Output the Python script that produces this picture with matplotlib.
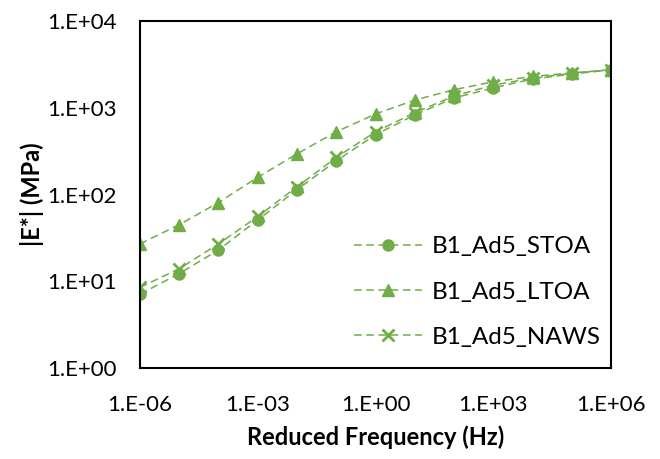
import matplotlib
matplotlib.use("Agg")
import matplotlib.pyplot as plt
import matplotlib.ticker as mticker
import numpy as np

plt.rcParams['font.family'] = ['Lato', 'DejaVu Sans']

freq = [1e-6, 1e-5, 1e-4, 1e-3, 1e-2, 1e-1, 1, 10, 100, 1e3, 1e4, 1e5, 1e6]
stoa = [7.1, 12.3, 23, 51, 114, 245, 490, 830, 1300, 1700, 2150, 2450, 2750]
ltoa = [27, 45, 81, 158, 295, 530, 850, 1230, 1620, 2000, 2300, 2530, 2750]
naws = [8.5, 14, 27, 56, 123, 268, 530, 880, 1370, 1830, 2200, 2500, 2750]

green = '#70AD47'

fig = plt.figure(figsize=(6.6, 4.59), dpi=100)
ax = fig.add_axes([0.212, 0.198, 0.714, 0.756])

ax.plot(freq, stoa, '--', color=green, lw=1.1, marker='o', ms=8, dashes=(5, 3), label='B1_Ad5_STOA')
ax.plot(freq, ltoa, '--', color=green, lw=1.1, marker='^', ms=8, dashes=(5, 3), label='B1_Ad5_LTOA')
ax.plot(freq, naws, '--', color=green, lw=1.1, marker='x', ms=8, mew=2, dashes=(5, 3), label='B1_Ad5_NAWS')

ax.set_xscale('log')
ax.set_yscale('log')
ax.set_xlim(1e-6, 1e6)
ax.set_ylim(1, 1e4)

def fmt(v, pos):
    e = int(round(np.log10(v)))
    return '1.E%s%02d' % ('+' if e >= 0 else '-', abs(e))

ax.xaxis.set_major_locator(mticker.FixedLocator([1e-6, 1e-3, 1, 1e3, 1e6]))
ax.yaxis.set_major_locator(mticker.FixedLocator([1, 10, 100, 1e3, 1e4]))
ax.xaxis.set_minor_locator(mticker.NullLocator())
ax.yaxis.set_minor_locator(mticker.NullLocator())
ax.xaxis.set_major_formatter(mticker.FuncFormatter(fmt))
ax.yaxis.set_major_formatter(mticker.FuncFormatter(fmt))
ax.tick_params(length=0, labelsize=16)
ax.tick_params(axis='x', pad=19)
ax.tick_params(axis='y', pad=17)

for s in ax.spines.values():
    s.set_linewidth(1.5)
    s.set_color('black')

ax.set_xlabel('Reduced Frequency (Hz)', fontsize=17, fontweight='bold', labelpad=8)
ax.set_ylabel('|E*| (MPa)', fontsize=17, fontweight='bold', labelpad=2)

ax.legend(loc='lower right', bbox_to_anchor=(1.025, -0.005), frameon=False, fontsize=17.5,
          handlelength=2.8, labelspacing=1.0, handletextpad=0.4)

fig.savefig('out.png', dpi=100)
